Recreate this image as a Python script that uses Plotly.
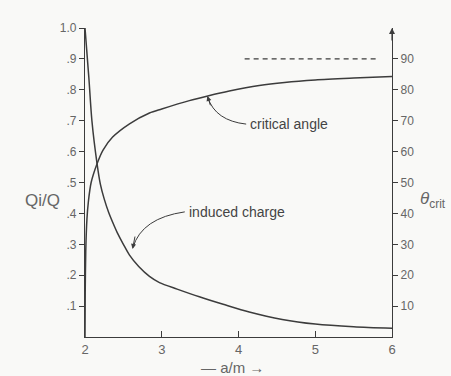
import plotly.graph_objects as go

# induced charge Qi/Q vs a/m
a_induced = [2.0, 2.05, 2.09, 2.156, 2.2, 2.25, 2.31, 2.38, 2.42, 2.5, 2.58, 2.7, 2.84, 2.97,
             3.2, 3.49, 3.8, 4.14, 4.57, 5.0, 5.5, 6.0]
q_induced = [1.0, 0.84, 0.70, 0.563, 0.495, 0.447, 0.402, 0.36, 0.338, 0.30, 0.265, 0.228, 0.196,
             0.176, 0.155, 0.13, 0.106, 0.081, 0.057, 0.042, 0.033, 0.028]

# critical angle (degrees) vs a/m
a_crit = [2.0, 2.003, 2.01, 2.025, 2.045, 2.08, 2.156, 2.235, 2.36, 2.58, 2.84, 3.0,
          3.36, 3.6, 3.88, 4.27, 4.6, 5.0, 5.5, 6.0]
theta_crit = [0, 15, 28, 38, 44, 50, 56, 60.5, 64.7, 69, 72.5, 73.8,
              76.5, 78, 79.6, 81.4, 82.4, 83.2, 83.8, 84.3]

# asymptote at 90 degrees
a_asym = [4.08, 5.8]
theta_asym = [90, 90]

x_ticks = [2, 3, 4, 5, 6]
y_ticks = [0.1, 0.2, 0.3, 0.4, 0.5, 0.6, 0.7, 0.8, 0.9, 1.0]
y_labels = [".1", ".2", ".3", ".4", ".5", ".6", ".7", ".8", ".9", "1.0"]
y2_ticks = [10, 20, 30, 40, 50, 60, 70, 80, 90]

ink = "#3c3c3c"
grey = "#666666"
font = "Liberation Sans"

fig = go.Figure()
fig.add_trace(go.Scatter(x=a_induced, y=q_induced, mode="lines",
                         line=dict(color=ink, width=1.5, shape="spline", smoothing=0.8),
                         showlegend=False, hoverinfo="skip"))
fig.add_trace(go.Scatter(x=a_crit, y=theta_crit, mode="lines", yaxis="y2",
                         line=dict(color=ink, width=1.5, shape="spline", smoothing=0.8),
                         showlegend=False, hoverinfo="skip"))
fig.add_trace(go.Scatter(x=a_asym, y=theta_asym, mode="lines", yaxis="y2",
                         line=dict(color=ink, width=1.3, dash="5px,4px"),
                         showlegend=False, hoverinfo="skip"))

fig.update_layout(
    width=451, height=376,
    margin=dict(l=85, r=59, t=28, b=39),
    paper_bgcolor="#f9f9f7", plot_bgcolor="#f9f9f7",
    font=dict(family=font, color=grey, size=12),
    xaxis=dict(range=[2, 6], tickvals=x_ticks, ticktext=[str(v) for v in x_ticks],
               showgrid=False, zeroline=False, showline=True, linecolor=ink, linewidth=1.2,
               ticks="inside", ticklen=6, tickcolor=ink, tickfont=dict(size=13, color=grey)),
    yaxis=dict(range=[0, 1.0], tickvals=y_ticks, ticktext=y_labels,
               showgrid=False, zeroline=False, showline=True, linecolor=ink, linewidth=1.2,
               ticks="outside", ticklen=5, tickcolor=ink, tickfont=dict(size=12, color=grey)),
    yaxis2=dict(range=[0, 100], overlaying="y", side="right", tickvals=y2_ticks,
                ticktext=[str(v) for v in y2_ticks],
                showgrid=False, zeroline=False, showline=True, linecolor=ink, linewidth=1.2,
                ticks="outside", ticklen=5, tickcolor=ink, tickfont=dict(size=12, color=grey)),
)

# axis titles
fig.add_annotation(text="Qi/Q", xref="paper", yref="paper", x=-0.137, y=0.443,
                   showarrow=False, font=dict(size=17, color=grey, family=font), xanchor="center")
fig.add_annotation(text="<i>θ</i><sub>crit</sub>", xref="paper", yref="paper", x=1.085, y=0.443,
                   showarrow=False, font=dict(size=17, color=grey, family=font), xanchor="left")
fig.add_annotation(text="— a/m →", xref="paper", yref="paper", x=0.48, y=-0.098,
                   showarrow=False, font=dict(size=15, color=grey, family=font), yanchor="middle")

# arrow at top of right axis
fig.add_annotation(x=6, y=1.0, xref="x", yref="y", ax=0, ay=14, showarrow=True,
                   arrowhead=2, arrowsize=1, arrowwidth=1.2, arrowcolor=ink, text="")

# labels with curved pointers
fig.add_annotation(text="critical angle", x=4.12, y=0.689, xref="x", yref="y",
                   showarrow=False, xanchor="left", font=dict(size=14, color="#444"))
fig.add_shape(type="path", xref="x", yref="y",
              path="M 4.10,0.689 Q 3.70,0.70 3.60,0.775", line=dict(color=ink, width=1))
fig.add_annotation(x=3.595, y=0.78, ax=3.64, ay=0.745, xref="x", yref="y", axref="x", ayref="y",
                   showarrow=True, arrowhead=2, arrowsize=1, arrowwidth=1, arrowcolor=ink, text="")

fig.add_annotation(text="induced charge", x=3.33, y=0.405, xref="x", yref="y",
                   showarrow=False, xanchor="left", font=dict(size=14, color="#444"))
fig.add_shape(type="path", xref="x", yref="y",
              path="M 3.30,0.405 Q 2.74,0.385 2.625,0.29", line=dict(color=ink, width=1))
fig.add_annotation(x=2.62, y=0.285, ax=2.655, ay=0.33, xref="x", yref="y", axref="x", ayref="y",
                   showarrow=True, arrowhead=2, arrowsize=1, arrowwidth=1, arrowcolor=ink, text="")

fig.write_html("out.html")
